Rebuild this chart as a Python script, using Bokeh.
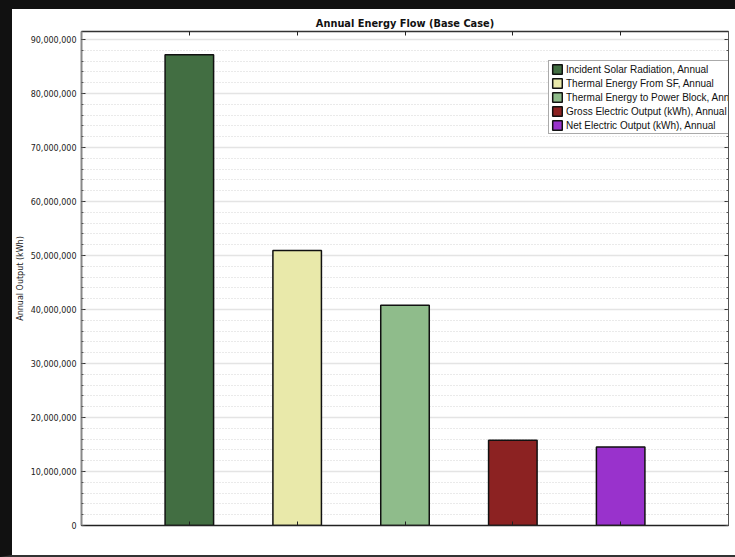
from bokeh.plotting import figure
from bokeh.models import (ColumnDataSource, Range1d, LinearAxis, FixedTicker,
                          SingleIntervalTicker, NumeralTickFormatter, CustomJSTickFormatter,
                          GlobalInlineStyleSheet)
from bokeh.embed import file_html
from bokeh.resources import INLINE

# ---- data ----
categories = [
    "Incident Solar Radiation, Annual",
    "Thermal Energy From SF, Annual",
    "Thermal Energy to Power Block, Annual",
    "Gross Electric Output (kWh), Annual",
    "Net Electric Output (kWh), Annual",
]
values = [87.2e6, 50.95e6, 40.8e6, 15.8e6, 14.55e6]
colors = ["#426E42", "#E9E9AA", "#8FBC8B", "#8C2222", "#9932CC"]
positions = list(range(1, len(categories) + 1))
y_max = 91.5e6
y_interval = 10e6

source = ColumnDataSource(dict(x=positions, top=values, color=colors, label=categories))

p = figure(width=723, height=546, output_backend="svg", toolbar_location=None,
           x_range=Range1d(0, len(categories) + 1), y_range=Range1d(0, y_max),
           min_border_left=67, min_border_right=7, min_border_top=22, min_border_bottom=30,
           x_axis_location=None, y_axis_location="left")
p.stylesheets = [GlobalInlineStyleSheet(css=(
    "html, body { overflow: hidden; } "
    "body { box-sizing: border-box; border-top: 9px solid #111111; "
    "border-left: 12px solid #111111; border-bottom: 2px solid #333333; "
    "background: #ffffff; }"))]

p.title.text = "Annual Energy Flow (Base Case)"
p.title.align = "center"
p.title.text_font = "DejaVu Sans"
p.title.text_font_size = "9.8px"
p.title.text_font_style = "bold"
p.title.text_color = "#111111"
p.title.standoff = 6
p.title.offset = 0

p.vbar(x="x", top="top", width=0.45, source=source, fill_color="color",
       line_color="#111111", line_width=1.5, legend_field="label")

# y axis
ya = p.yaxis[0]
ya.ticker = SingleIntervalTicker(interval=y_interval, num_minor_ticks=5)
ya.formatter = NumeralTickFormatter(format="0,0")
ya.axis_label = "Annual Output (kWh)"
ya.axis_label_text_font = "DejaVu Sans"
ya.axis_label_text_font_size = "8px"
ya.axis_label_text_font_style = "normal"
ya.axis_label_text_color = "#222222"
ya.axis_label_standoff = 3
ya.major_label_text_font = "DejaVu Sans"
ya.major_label_text_font_size = "8px"
ya.major_label_text_color = "#222222"
ya.major_label_standoff = 5
ya.major_tick_in = 4
ya.major_tick_out = 0
ya.minor_tick_in = 2
ya.minor_tick_out = 0
ya.axis_line_color = "#888888"
ya.axis_line_width = 2
ya.major_tick_line_color = "#333333"
ya.minor_tick_line_color = "#555555"

blank = CustomJSTickFormatter(code="return ''")

# right axis (ticks only)
ra = LinearAxis(ticker=SingleIntervalTicker(interval=y_interval, num_minor_ticks=5),
                formatter=blank, major_label_standoff=0,
                major_tick_in=4, major_tick_out=0, minor_tick_in=2, minor_tick_out=0,
                axis_line_color="#555555", major_tick_line_color="#333333",
                minor_tick_line_color="#555555")
p.add_layout(ra, "right")

# top / bottom axes (category ticks only)
for loc, lc in (("above", "#333333"), ("below", "#222222")):
    ax = LinearAxis(ticker=FixedTicker(ticks=positions), formatter=blank,
                    major_label_standoff=0,
                    major_tick_in=4, major_tick_out=0, minor_tick_in=0, minor_tick_out=0,
                    axis_line_color=lc, axis_line_width=1.5, major_tick_line_color="#222222")
    p.add_layout(ax, loc)

p.xgrid.grid_line_color = None
p.ygrid.ticker = SingleIntervalTicker(interval=y_interval, num_minor_ticks=5)
p.ygrid.grid_line_color = "#e4e4e4"
p.ygrid.grid_line_width = 1.5
p.ygrid.minor_grid_line_color = "#d4d4d4"
p.ygrid.minor_grid_line_dash = "1 2"
p.outline_line_color = "#444444"

lg = p.legend[0]
lg.location = (467, 391)
lg.label_text_font = "Liberation Sans"
lg.label_text_font_size = "10px"
lg.label_text_color = "#111111"
lg.label_height = 12
lg.glyph_height = 12
lg.glyph_width = 12
lg.label_standoff = 3
lg.spacing = 2
lg.padding = 2
lg.margin = 0
lg.border_line_color = "#555555"
lg.background_fill_alpha = 1.0

open("out.html", "w").write(file_html(p, INLINE))
